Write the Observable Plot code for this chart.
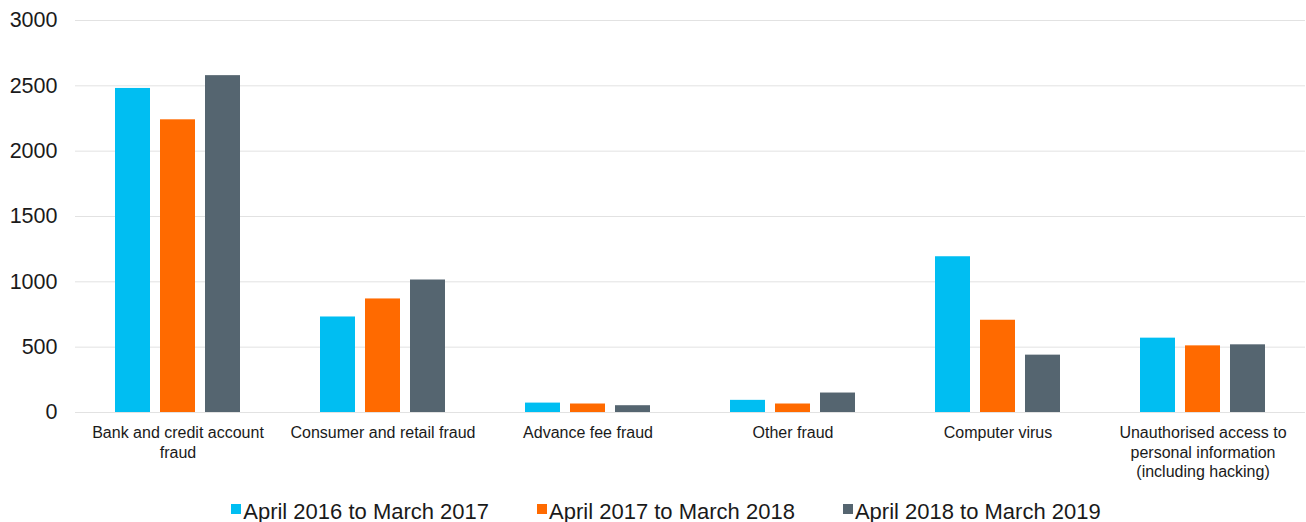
<!DOCTYPE html>
<html>
<head>
<meta charset="utf-8">
<script src="https://cdn.jsdelivr.net/npm/d3@7"></script>
<script src="https://cdn.jsdelivr.net/npm/@observablehq/plot@0.6"></script>
<style>
  html, body { margin: 0; padding: 0; background: #fff; }
  body { font-family: "Liberation Sans", Arial, Helvetica, sans-serif; width: 1306px; height: 522px; overflow: hidden; }
  #legend { display: flex; justify-content: center; align-items: flex-start; margin-top: 9px; font-size: 22px; color: #1a1a1a; line-height: 22px; padding-left: 26px; }
  .item { display: flex; align-items: flex-start; margin: 0 24px; }
  .sw { width: 10px; height: 10px; margin-top: 3px; margin-right: 2px; flex: none; }
</style>
</head>
<body>
<div id="chart"></div>
<div id="legend"></div>
<script>
const categories = [
  "Bank and credit account fraud",
  "Consumer and retail fraud",
  "Advance fee fraud",
  "Other fraud",
  "Computer virus",
  "Unauthorised access to personal information (including hacking)"
];
const categoryLabels = [
  "Bank and credit account\nfraud",
  "Consumer and retail fraud",
  "Advance fee fraud",
  "Other fraud",
  "Computer virus",
  "Unauthorised access to\npersonal information\n(including hacking)"
];
const series = ["April 2016 to March 2017", "April 2017 to March 2018", "April 2018 to March 2019"];
const seriesColors = ["#00bef2", "#ff6a00", "#556570"];
const values2016to2017 = [2480, 731, 72, 93, 1192, 569];
const values2017to2018 = [2240, 869, 65, 65, 706, 510];
const values2018to2019 = [2578, 1014, 52, 149, 439, 518];
const yTicks = [0, 500, 1000, 1500, 2000, 2500, 3000];

const seriesValues = [values2016to2017, values2017to2018, values2018to2019];
const data = [];
categories.forEach((c, i) => {
  series.forEach((s, j) => {
    data.push({category: c, series: s, value: seriesValues[j][i]});
  });
});
const labelOf = new Map(categories.map((c, i) => [c, categoryLabels[i]]));

const chart = Plot.plot({
  width: 1306,
  height: 492,
  marginLeft: 73,
  marginRight: 0,
  marginTop: 20,
  marginBottom: 80,
  style: { fontFamily: "'Liberation Sans', Arial, Helvetica, sans-serif", background: "white", color: "#1a1a1a" },
  fx: { domain: categories, paddingInner: 0, paddingOuter: 0, label: null },
  x: { domain: series, paddingInner: 0.217, paddingOuter: 0.842, axis: null },
  y: { domain: [0, 3000], axis: null },
  color: { domain: series, range: seriesColors },
  marks: [
    Plot.gridY(yTicks, { stroke: "#e2e2e2", strokeOpacity: 1, strokeWidth: 1 }),
    Plot.axisY(yTicks, { tickSize: 0, tickPadding: 18, fontSize: 21.5, label: null, tickFormat: d => String(d) }),
    Plot.barY(data, { fx: "category", x: "series", y: "value", fill: "series" }),
    Plot.axisFx({ anchor: "bottom", tickSize: 0, tickPadding: 12, fontSize: 16, lineHeight: 1.22, label: null, tickFormat: d => labelOf.get(d) })
  ]
});
document.getElementById("chart").appendChild(chart);

const legend = document.getElementById("legend");
series.forEach((s, j) => {
  const item = document.createElement("div");
  item.className = "item";
  const sw = document.createElement("span");
  sw.className = "sw";
  sw.style.background = seriesColors[j];
  const t = document.createElement("span");
  t.textContent = s;
  item.appendChild(sw);
  item.appendChild(t);
  legend.appendChild(item);
});
</script>
</body>
</html>
